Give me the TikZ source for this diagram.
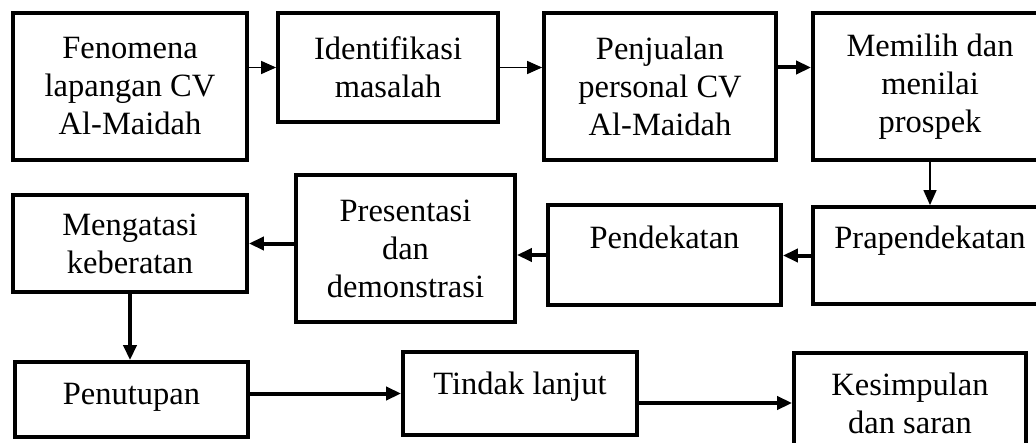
\documentclass[tikz,border=0pt]{standalone}
\usepackage{fontspec}
\setmainfont{Liberation Serif}
\usetikzlibrary{arrows.meta}

\begin{document}
\begin{tikzpicture}[x=0.5pt, y=-0.5pt,
  kotak/.style={draw, line width=1.9pt, align=center, inner sep=2pt,
    font=\fontsize{16.25}{19}\selectfont},
  panah/.style={-{Triangle[length=7.5pt, width=6.5pt]}, line width=0.7pt},
  panahtebal/.style={panah, line width=2pt}]
  \useasboundingbox (0,0) rectangle (1036,443);
  \clip (0,0) rectangle (1036,443);
  % baris atas
  \node[kotak, minimum width=117pt, minimum height=73.5pt] (fen) at (130,86.5) {Fenomena\\lapangan CV\\Al-Maidah};
  \node[kotak, minimum width=110pt, minimum height=54.5pt] (idn) at (388,67.5) {Identifikasi\\masalah};
  \node[kotak, minimum width=116pt, minimum height=73.5pt] (jual) at (660,86.5) {Penjualan\\personal CV\\Al-Maidah};
  \node[kotak, minimum width=117pt, minimum height=73.5pt] (pilih) at (930,86.5) {Memilih dan\\menilai\\prospek};
  % baris tengah
  \node[kotak, minimum width=117pt, minimum height=48.5pt, text depth=18pt] (prap) at (930,255.5) {Prapendekatan};
  \node[kotak, minimum width=116.5pt, minimum height=50pt, text depth=18pt] (pend) at (664.5,255) {Pendekatan};
  \node[kotak, minimum width=109.5pt, minimum height=73.5pt] (pres) at (405.5,248.5) {Presentasi\\dan\\demonstrasi};
  \node[kotak, minimum width=117pt, minimum height=48.5pt] (atasi) at (130,243.5) {Mengatasi\\keberatan};
  % baris bawah
  \node[kotak, minimum width=116.5pt, minimum height=37.5pt, text depth=6pt] (tutup) at (131.5,399.5) {Penutupan};
  \node[kotak, minimum width=117pt, minimum height=41.5pt, text depth=10pt] (lanjut) at (520,393.5) {Tindak lanjut};
  \node[kotak, minimum width=116pt, minimum height=50pt] (simpul) at (910,403) {Kesimpulan\\dan saran};
  % panah
  \draw[panah] (fen.east |- idn.west) -- (idn.west);
  \draw[panah] (idn.east) -- (idn.east -| jual.west);
  \draw[panahtebal] (jual.east |- idn.east) -- (pilih.west |- idn.east);
  \draw[panah] (pilih.south) -- (prap.north);
  \draw[panahtebal] (prap.west) -- (prap.west -| pend.east);
  \draw[panahtebal] (pend.west) -- (pend.west -| pres.east);
  \draw[panahtebal] (atasi.east -| pres.west) -- (atasi.east);
  \draw[panahtebal] (atasi.south) -- (atasi.south |- tutup.north);
  \draw[panahtebal] (tutup.east |- lanjut.west) -- (lanjut.west);
  \draw[panahtebal] (simpul.west -| lanjut.east) -- (simpul.west);
\end{tikzpicture}
\end{document}
